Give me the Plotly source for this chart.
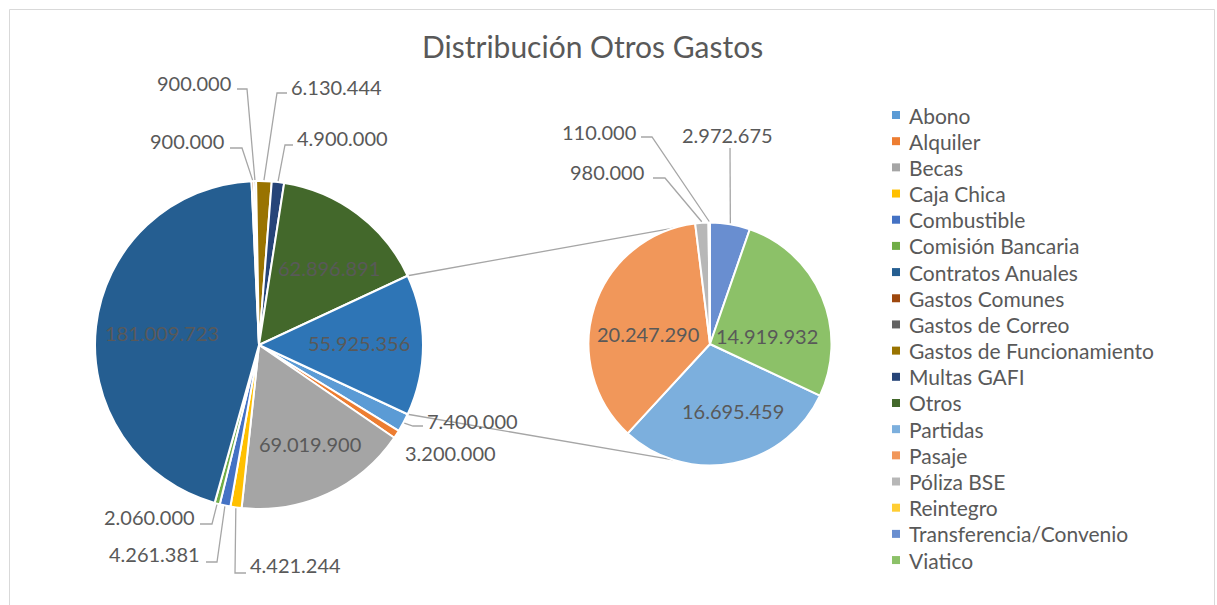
import math
import plotly.graph_objects as go

# ---------------- data ----------------
main_labels = ["Abono", "Alquiler", "Becas", "Caja Chica", "Combustible",
               "Comisión Bancaria", "Contratos Anuales", "Gastos Comunes",
               "Gastos de Correo", "Gastos de Funcionamiento", "Multas GAFI", "Otros"]
main_values = [7400000, 3200000, 69019900, 4421244, 4261381, 2060000,
               181009723, 900000, 900000, 6130444, 4900000, 62896891]
sub_labels = ["Partidas", "Pasaje", "Póliza BSE", "Reintegro",
              "Transferencia/Convenio", "Viatico"]
sub_values = [16695459, 20247290, 980000, 110000, 2972675, 14919932]
other_label = "Otro"
legend_labels = main_labels + sub_labels

# ---------------- styles ----------------
colors = {
    "Abono": "#5B9BD5", "Alquiler": "#ED7D31", "Becas": "#A5A5A5",
    "Caja Chica": "#FFC000", "Combustible": "#4472C4", "Comisión Bancaria": "#70AD47",
    "Contratos Anuales": "#255E91", "Gastos Comunes": "#9E480E",
    "Gastos de Correo": "#636363", "Gastos de Funcionamiento": "#997300",
    "Multas GAFI": "#264478", "Otros": "#43682B", "Partidas": "#7CAFDD",
    "Pasaje": "#F1975A", "Póliza BSE": "#B7B7B7", "Reintegro": "#FFCD33",
    "Transferencia/Convenio": "#698ED0", "Viatico": "#8CC168", "Otro": "#2E75B6",
}
W, H = 1217, 605
FONT = "Lato"
TXT = "#595959"
LINE = "#A6A6A6"
LBL_SIZE = 20
LEG_SIZE = 21
TITLE_SIZE = 30

# pie geometry (pixels)
L_CX, L_CY, L_R = 259, 345, 164
S_CX, S_CY, S_R = 710, 344, 121.5

# label placement (pixels): inside labels -> text centre
inside_pos = {
    "Contratos Anuales": (162, 333), "Otros": (329, 268), "Otro": (359, 343),
    "Becas": (310, 444), "Pasaje": (648, 334), "Viatico": (767, 336),
    "Partidas": (733, 411),
}
# outside labels -> (text centre, leader-line points after the slice anchor)
outside_pos = {
    "Abono": ((472, 421), [(413, 426), (423, 426)]),
    "Alquiler": ((450, 453), []),
    "Caja Chica": ((295, 565), [(235, 573), (246, 573)]),
    "Combustible": ((154, 554), [(217, 562), (206, 562)]),
    "Comisión Bancaria": ((149, 517), [(212, 524), (200, 524)]),
    "Gastos de Correo": ((194, 83), [(247, 89), (237, 89)]),
    "Gastos Comunes": ((187, 141), [(242, 148), (230, 148)]),
    "Gastos de Funcionamiento": ((336, 87), [(277, 93), (287, 93)]),
    "Multas GAFI": ((342, 138), [(285, 145), (293, 145)]),
    "Reintegro": ((599, 132), [(652, 137), (641, 137)]),
    "Póliza BSE": ((607, 172), [(665, 178), (653, 178)]),
    "Transferencia/Convenio": ((727, 135), [(730, 148)]),
}


def px(x):
    return x / W


def py(y):
    return 1 - y / H


def fmt(v):
    return f"{v:,}".replace(",", ".")


other_value = sum(sub_values)
pie1_labels = main_labels + [other_label]
pie1_values = main_values + [other_value]
tot1 = sum(pie1_values)
tot2 = sum(sub_values)

# Other slice centred at 3 o'clock
rot1 = 90 + 360 * other_value / tot1 / 2
# secondary pie: Transferencia/Convenio begins at 12 o'clock
k = sub_labels.index("Transferencia/Convenio")
rot2 = 360 - 360 * sum(sub_values[:k]) / tot2


def slice_angles(values, rot):
    t = sum(values)
    out = []
    a = rot
    for v in values:
        d = 360 * v / t
        out.append((a, a + d))
        a += d
    return out


ang1 = dict(zip(pie1_labels, slice_angles(pie1_values, rot1)))
ang2 = dict(zip(sub_labels, slice_angles(sub_values, rot2)))


def polar(cx, cy, r, deg):
    t = math.radians(deg)
    return cx + r * math.sin(t), cy - r * math.cos(t)


fig = go.Figure()
fig.add_trace(go.Pie(
    labels=pie1_labels, values=pie1_values, sort=False, direction="clockwise",
    rotation=rot1, textinfo="none", showlegend=False, hoverinfo="label+value",
    marker=dict(colors=[colors[l] for l in pie1_labels], line=dict(color="white", width=2)),
    domain=dict(x=[px(L_CX - L_R), px(L_CX + L_R)], y=[py(L_CY + L_R), py(L_CY - L_R)]),
))
fig.add_trace(go.Pie(
    labels=sub_labels, values=sub_values, sort=False, direction="clockwise",
    rotation=rot2, textinfo="none", showlegend=False, hoverinfo="label+value",
    marker=dict(colors=[colors[l] for l in sub_labels], line=dict(color="white", width=2)),
    domain=dict(x=[px(S_CX - S_R), px(S_CX + S_R)], y=[py(S_CY + S_R), py(S_CY - S_R)]),
))

shapes = []
annotations = []

# chart border (bottom edge lies below the visible page)
shapes.append(dict(type="rect", xref="paper", yref="paper", x0=px(9.5), x1=px(1214.5),
                   y0=py(612), y1=py(9.5), line=dict(color="#D9D9D9", width=1)))

# connector lines between pies
a_start, a_end = ang1[other_label]
p_top = polar(L_CX, L_CY, L_R, a_start)
p_bot = polar(L_CX, L_CY, L_R, a_end)
q_top = polar(S_CX, S_CY, S_R, 342.5)
q_bot = polar(S_CX, S_CY, S_R, 197.5)
for p, q in ((p_top, q_top), (p_bot, q_bot)):
    shapes.append(dict(type="line", xref="paper", yref="paper",
                       x0=px(p[0]), y0=py(p[1]), x1=px(q[0]), y1=py(q[1]),
                       line=dict(color=LINE, width=1.3), layer="below"))


def add_label(text, x, y):
    annotations.append(dict(text=text, x=px(x), y=py(y), xref="paper", yref="paper",
                            xanchor="center", yanchor="middle", showarrow=False,
                            font=dict(family=FONT, size=LBL_SIZE, color=TXT)))


vals1 = dict(zip(pie1_labels, pie1_values))
vals2 = dict(zip(sub_labels, sub_values))

for name, (x, y) in inside_pos.items():
    v = vals1.get(name, vals2.get(name))
    add_label(fmt(v), x, y)

for name, ((tx, ty), pts) in outside_pos.items():
    if name in ang1:
        a0, a1 = ang1[name]
        anchor = polar(L_CX, L_CY, L_R + 1, (a0 + a1) / 2)
        v = vals1[name]
    else:
        a0, a1 = ang2[name]
        anchor = polar(S_CX, S_CY, S_R + 1, (a0 + a1) / 2)
        v = vals2[name]
    add_label(fmt(v), tx, ty)
    if pts:
        path_pts = [anchor] + pts
        d = "M " + " L ".join(f"{px(a):.5f},{py(b):.5f}" for a, b in path_pts)
        shapes.append(dict(type="path", xref="paper", yref="paper", path=d,
                           line=dict(color=LINE, width=1.3)))

# title
annotations.append(dict(text="Distribución Otros Gastos", x=px(592), y=py(46),
                        xref="paper", yref="paper", xanchor="center", yanchor="middle",
                        showarrow=False, font=dict(family=FONT, size=TITLE_SIZE, color=TXT)))

# legend (manual, so the aggregated slice is not listed)
LEG_X, LEG_Y0, LEG_DY = 892, 115, 26.18
for i, name in enumerate(legend_labels):
    yc = LEG_Y0 + i * LEG_DY
    shapes.append(dict(type="rect", xref="paper", yref="paper",
                       x0=px(LEG_X), x1=px(LEG_X + 8), y0=py(yc + 4), y1=py(yc - 4),
                       fillcolor=colors[name], line=dict(width=0)))
    annotations.append(dict(text=name, x=px(907), y=py(yc), xref="paper", yref="paper",
                            xanchor="left", yanchor="middle", showarrow=False,
                            font=dict(family=FONT, size=LEG_SIZE, color=TXT)))

fig.update_layout(
    width=W, height=H, margin=dict(l=0, r=0, t=0, b=0),
    paper_bgcolor="white", plot_bgcolor="white",
    shapes=shapes, annotations=annotations, showlegend=False,
    separators=",.",
)
fig.write_html("out.html", config={"displayModeBar": False},
               post_script="document.body.style.margin='0px';document.body.style.overflow='hidden';")
